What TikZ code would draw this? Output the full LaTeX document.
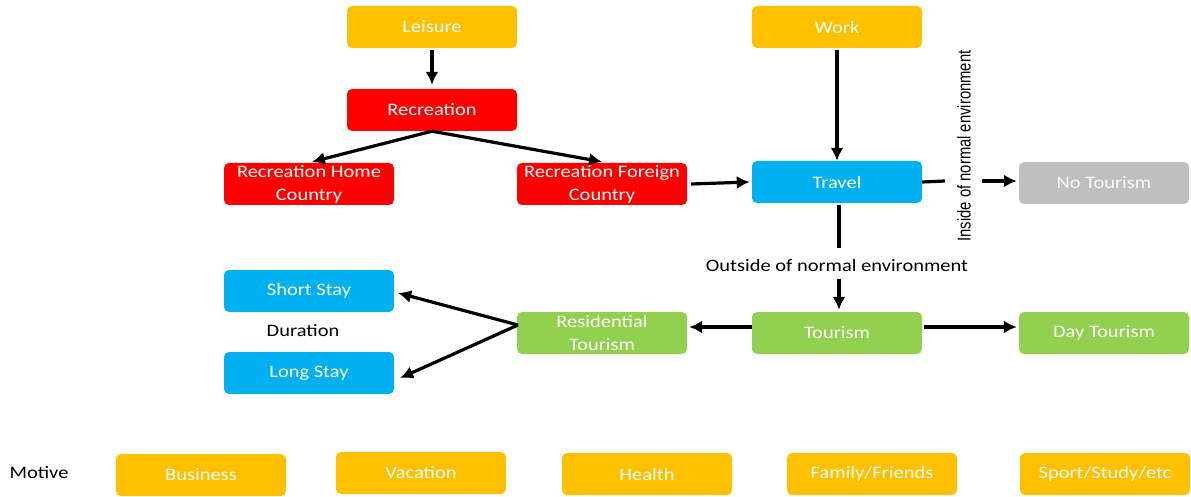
\documentclass[tikz,border=0pt]{standalone}
\usepackage{fontspec}
\setmainfont{Carlito}[FakeStretch=1.17]
\newfontfamily\narrowfont{Liberation Sans}
\usetikzlibrary{arrows.meta}
\definecolor{cOrange}{HTML}{FFC000}
\definecolor{cRed}{HTML}{FF0000}
\definecolor{cBlue}{HTML}{00B0F0}
\definecolor{cGreen}{HTML}{92D050}
\definecolor{cGrey}{HTML}{BFBFBF}
\tikzset{
  box/.style={rounded corners=5pt, minimum width=170pt, minimum height=42pt,
    inner sep=0pt, text=white, align=center,
    font=\fontsize{17.5}{23}\selectfont},
  orangebox/.style={box, fill=cOrange},
  redbox/.style={box, fill=cRed},
  bluebox/.style={box, fill=cBlue},
  greenbox/.style={box, fill=cGreen},
  greybox/.style={box, fill=cGrey, text=white!92!cGrey},
  label/.style={font=\fontsize{17.5}{20}\selectfont, text=black, inner sep=0pt},
  arr/.style={line width=3.2pt, -{Latex[length=13pt,width=13pt]}},
  plain/.style={line width=3.2pt}
}
\begin{document}
\begin{tikzpicture}[x=1pt,y=-1pt]
  \useasboundingbox (0,0) rectangle (1191,497);

  % top rows
  \node[orangebox] (leisure) at (432,27) {Leisure};
  \node[orangebox] (work) at (837,27) {Work};
  \node[redbox] (recreation) at (432,110) {Recreation};
  \node[redbox] (rechome) at (309,184) {Recreation Home\\Country};
  \node[redbox] (recforeign) at (602,184) {Recreation Foreign\\Country};
  \node[bluebox] (travel) at (837,182) {Travel};
  \node[greybox] (notourism) at (1104,183) {No Tourism};

  % tourism row
  \node[bluebox] (short) at (309,291) {Short Stay};
  \node[bluebox] (long) at (309,373) {Long Stay};
  \node[greenbox] (residential) at (602,333) {Residential\\Tourism};
  \node[greenbox] (tourism) at (837,333) {Tourism};
  \node[greenbox] (daytourism) at (1104,333) {Day Tourism};

  % motives
  \node[label] (motive) at (39,473) {Motive};
  \node[orangebox] (business) at (201,475) {\raisebox{-3pt}{Business}};
  \node[orangebox] (vacation) at (421,473) {Vacation};
  \node[orangebox] (health) at (647,474) {\raisebox{-1pt}{Health}};
  \node[orangebox] (family) at (872,474) {\raisebox{-1pt}{Family/Friends}};
  \node[orangebox] (sport) at (1105,474) {Sport/Study/etc};

  % labels
  \node[label] (duration) at (303,331) {Duration};
  \node[label] (outside) at (837,265) {Outside of normal environment};
  \node[inner sep=0pt, rotate=90, font=\narrowfont\fontsize{18.5}{20}\selectfont] (inside) at (964,146)
    {\scalebox{0.8}[1]{Inside of normal environment}};

  % connector waypoints around the labels
  \coordinate (insideL) at (945,181);
  \coordinate (insideR) at (982,181);
  \coordinate (outsideT) at (839,248);
  \coordinate (outsideB) at (839,279);
  \coordinate (fork) at (518,325);

  % connectors
  \draw[arr] (leisure.south) ++(0,2) -- ([yshift=4pt]recreation.north);
  \draw[arr] (recreation.south) -- ([xshift=3pt,yshift=1pt]rechome.north);
  \draw[arr] (recreation.south) -- ([yshift=1pt]recforeign.north);
  \draw[arr] ([xshift=4pt]recforeign.east) -- ([xshift=-2pt]travel.west);
  \draw[arr] ([yshift=-2pt]work.south) -- (travel.north);
  \draw[plain] (travel.east) -- (insideL);
  \draw[arr] (insideR) -- ([xshift=-2pt,yshift=2pt]notourism.west);
  \draw[plain] ([xshift=2pt,yshift=-2pt]travel.south) -- (outsideT);
  \draw[arr] (outsideB) -- ([xshift=2pt,yshift=2pt]tourism.north);
  \draw[arr] ([yshift=6pt]tourism.west) -- ([xshift=2pt,yshift=6pt]residential.east);
  \draw[arr] ([xshift=2pt,yshift=6pt]tourism.east) -- ([xshift=-2pt,yshift=6pt]daytourism.west);
  \draw[arr] (fork) -- ([xshift=4pt,yshift=-2pt]short.east);
  \draw[arr] (fork) -- ([xshift=6pt,yshift=-5pt]long.east);
\end{tikzpicture}
\end{document}
